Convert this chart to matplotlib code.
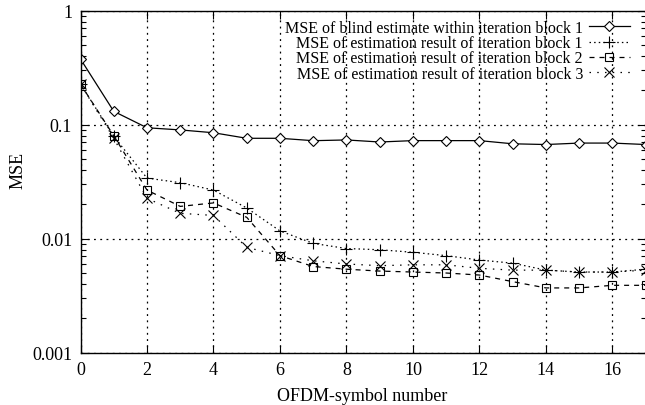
import matplotlib
matplotlib.use("Agg")
import matplotlib.pyplot as plt
from matplotlib.ticker import LogLocator, NullFormatter, FixedLocator

plt.rcParams['font.family'] = ['Liberation Serif', 'DejaVu Serif']

symbols = list(range(18))
mse_blind_1 = [0.377, 0.131, 0.094, 0.090, 0.085, 0.076, 0.076, 0.0724, 0.0735, 0.0705,
               0.0725, 0.0725, 0.0725, 0.068, 0.067, 0.069, 0.069, 0.067]
mse_block_1 = [0.227, 0.079, 0.034, 0.031, 0.0267, 0.0186, 0.0117, 0.0091, 0.0082, 0.0080,
               0.0076, 0.0071, 0.0065, 0.0061, 0.0053, 0.0051, 0.0051, 0.0054]
mse_block_2 = [0.227, 0.080, 0.0267, 0.0192, 0.0206, 0.0154, 0.0071, 0.0057, 0.0054, 0.0052,
               0.0051, 0.0050, 0.0048, 0.0042, 0.0037, 0.0037, 0.0039, 0.0039]
mse_block_3 = [0.227, 0.076, 0.0226, 0.0167, 0.0160, 0.0084, 0.0071, 0.0064, 0.0060, 0.0058,
               0.0059, 0.0059, 0.0055, 0.0053, 0.0053, 0.0051, 0.0051, 0.0053]

labels = ["MSE of blind estimate within iteration block 1",
          "MSE of estimation result of iteration block 1",
          "MSE of estimation result of iteration block 2",
          "MSE of estimation result of iteration block 3"]
x_ticks = [0, 2, 4, 6, 8, 10, 12, 14, 16]
y_ticks = [0.001, 0.01, 0.1, 1]
y_tick_labels = ["0.001", "0.01", "0.1", "1"]

W, H = 645, 406
fig = plt.figure(figsize=(W / 100, H / 100), dpi=100)
x0, x1, y0, y1 = 80.5, 645.7, 11.7, 353.7
ax = fig.add_axes([x0 / W, 1 - y1 / H, (x1 - x0) / W, (y1 - y0) / H])

lw = 0.9
ax.plot(symbols, mse_blind_1, color='black', lw=lw, linestyle='-',
        marker='D', markersize=4.8, markerfacecolor='white', markeredgewidth=0.8,
        label=labels[0])
ax.plot(symbols, mse_block_1, color='black', lw=lw, linestyle=(0, (1.2, 2.5)),
        marker='+', markersize=8, markeredgewidth=0.8, label=labels[1])
ax.plot(symbols, mse_block_2, color='black', lw=lw, linestyle=(0, (4, 4)),
        marker='s', markersize=6, markerfacecolor='none', markeredgewidth=0.8,
        label=labels[2])
ax.plot(symbols, mse_block_3, color='black', lw=lw, linestyle=(0, (1.2, 5)),
        marker='x', markersize=7, markeredgewidth=0.8, label=labels[3])

ax.set_yscale('log')
ax.set_xlim(0, 17)
ax.set_ylim(0.001, 1)
ax.xaxis.set_major_locator(FixedLocator(x_ticks))
ax.set_xticklabels([str(v) for v in x_ticks])
ax.yaxis.set_major_locator(FixedLocator(y_ticks))
ax.set_yticklabels(y_tick_labels)
ax.yaxis.set_minor_locator(LogLocator(base=10, subs=range(2, 10)))
ax.yaxis.set_minor_formatter(NullFormatter())

ax.tick_params(axis='both', which='major', direction='in', length=6, width=0.8,
               top=True, right=True, labelsize=13, pad=6, colors='black')
ax.tick_params(axis='y', which='minor', direction='in', length=3.5, width=0.8,
               left=True, right=True)

ax.grid(True, which='major', color='black', linestyle=(0, (1.5, 3.5)), linewidth=0.9)

for s in ax.spines.values():
    s.set_linewidth(1.0)
    s.set_color('black')

ax.set_xlabel("OFDM-symbol number", fontsize=13)
ax.xaxis.set_label_coords((362 - x0) / (x1 - x0), (y1 - 388) / (y1 - y0))
ax.set_ylabel("MSE", fontsize=13)
ax.yaxis.set_label_coords((27 - x0) / (x1 - x0), (y1 - 170) / (y1 - y0))

leg = ax.legend(loc='upper right', frameon=False, fontsize=11.5, markerfirst=False,
                handlelength=2.6, handletextpad=0.35, labelspacing=-0.05,
                borderaxespad=0.0, borderpad=0.4,
                bbox_to_anchor=((630 + 6.5 - x0) / (x1 - x0), 1 - 3 / (y1 - y0)))
for t in leg.get_texts():
    t.set_ha('right')
leg._legend_box.align = 'right'

fig.savefig("out.png", dpi=100, facecolor='white')
